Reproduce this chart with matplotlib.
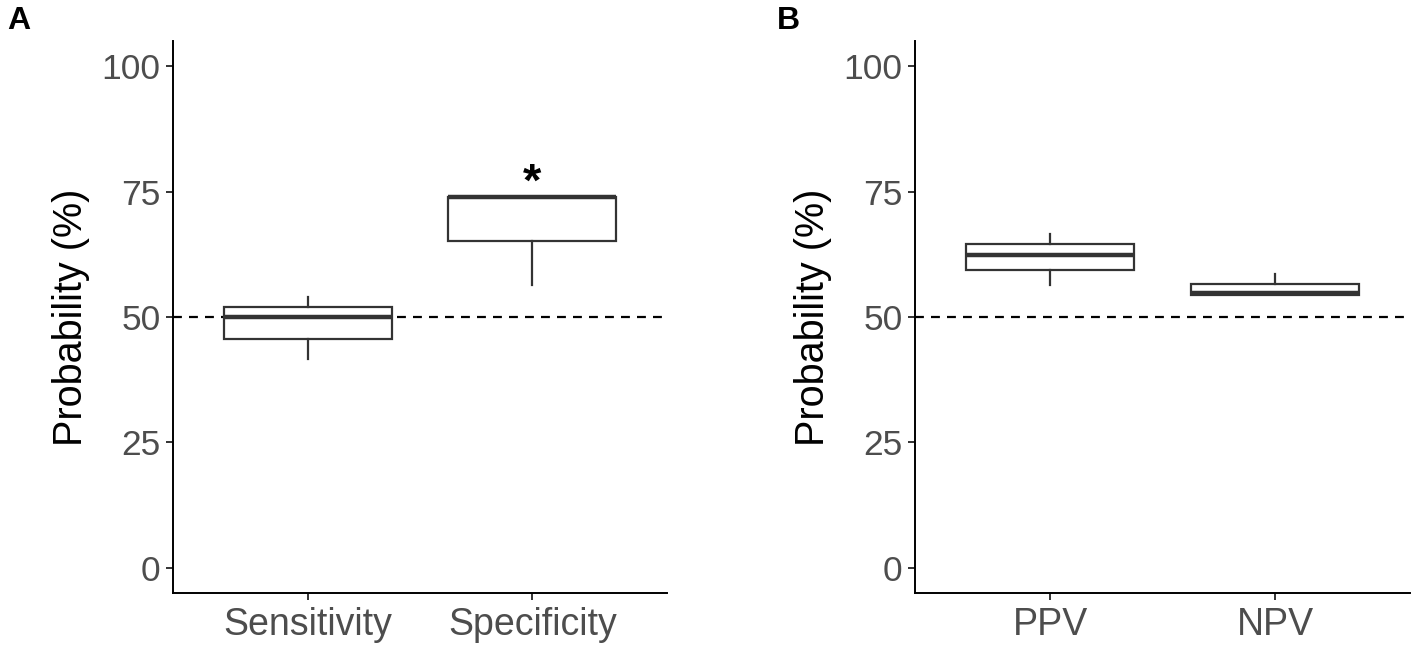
import matplotlib
matplotlib.use("Agg")
import matplotlib.pyplot as plt

plt.rcParams['font.family'] = ['Liberation Sans', 'DejaVu Sans']

# Data
cats_a = ["Sensitivity", "Specificity"]
whislo_a = [41.6, 56.4]
q1_a = [45.7, 65.2]
med_a = [50.0, 74.0]
q3_a = [52.0, 74.0]
whishi_a = [54.0, 74.0]

cats_b = ["PPV", "NPV"]
whislo_b = [56.4, 54.3]
q1_b = [59.4, 54.3]
med_b = [62.4, 54.7]
q3_b = [64.5, 56.5]
whishi_b = [66.5, 58.5]

yticks = [0, 25, 50, 75, 100]
ref_line = 50
star_cat = "Specificity"
star_y = 76.6

fig = plt.figure(figsize=(14.17, 6.51), dpi=100)
axA = fig.add_axes([173/1417, 1-593/651, (667-173)/1417, (593-41)/651])
axB = fig.add_axes([915/1417, 1-593/651, (1410-915)/1417, (593-41)/651])

box_col = '#333333'
tick_col = '#4D4D4D'

def panel(ax, cats, wl, q1, med, q3, wh):
    stats = []
    for c, a, b, m, d, e in zip(cats, wl, q1, med, q3, wh):
        stats.append(dict(label=c, whislo=a, q1=b, med=m, q3=d, whishi=e, fliers=[]))
    ax.axhline(ref_line, color='black', lw=1.6, ls=(0, (4, 3.2)), zorder=1)
    ax.bxp(stats, positions=range(1, len(cats)+1), widths=0.75, showcaps=False,
           showfliers=False, patch_artist=True,
           boxprops=dict(facecolor='none', edgecolor=box_col, linewidth=1.6),
           whiskerprops=dict(color=box_col, linewidth=1.6),
           medianprops=dict(color=box_col, linewidth=3.2, solid_capstyle='butt'),
           zorder=3)
    ax.set_xlim(0.4, len(cats)+0.6)
    ax.set_ylim(-5, 105)
    ax.set_yticks(yticks)
    ax.set_yticklabels([str(v) for v in yticks])
    ax.set_xticks(range(1, len(cats)+1))
    ax.set_xticklabels(cats)
    for s in ['top', 'right']:
        ax.spines[s].set_visible(False)
    for s in ['left', 'bottom']:
        ax.spines[s].set_linewidth(1.4)
        ax.spines[s].set_color('black')
    ax.tick_params(axis='both', color='#333333', length=5, width=1.4, labelcolor=tick_col)
    ax.tick_params(axis='x', labelsize=27, pad=5)
    ax.tick_params(axis='y', labelsize=25.5, pad=4)
    ax.set_ylabel("Probability (%)", fontsize=28.5, color='black', labelpad=8)

panel(axA, cats_a, whislo_a, q1_a, med_a, q3_a, whishi_a)
panel(axB, cats_b, whislo_b, q1_b, med_b, q3_b, whishi_b)

axA.text(cats_a.index(star_cat)+1, star_y, "*", ha='center', va='center',
         fontsize=34, fontweight='bold', color='black')

fig.text(7/1417, 1-21/651, "A", fontsize=23, fontweight='bold', va='center', ha='left')
fig.text(777/1417, 1-21/651, "B", fontsize=23, fontweight='bold', va='center', ha='left')

fig.savefig("out.png", dpi=100)
